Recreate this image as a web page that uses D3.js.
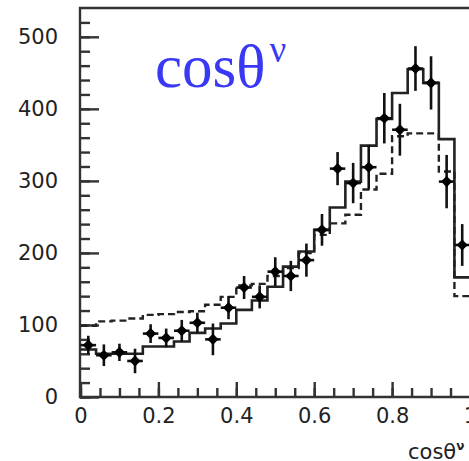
<!DOCTYPE html>
<html>
<head>
<meta charset="utf-8">
<script src="https://cdn.jsdelivr.net/npm/d3@7"></script>
<style>
  body { margin: 0; background: #fff; }
  svg { display: block; }
  .tick text { font-family: "DejaVu Sans", sans-serif; font-size: 21px; fill: #222; }
  .tick line { stroke: #333; stroke-width: 2.4; }
</style>
</head>
<body>
<svg width="469" height="461"></svg>
<script>
// bin low edges (width 0.04)
const binEdges = [0, 0.04, 0.08, 0.12, 0.16, 0.2, 0.24, 0.28, 0.32, 0.36, 0.4, 0.44, 0.48,
  0.52, 0.56, 0.6, 0.64, 0.68, 0.72, 0.76, 0.8, 0.84, 0.88, 0.92, 0.96];
const binWidth = 0.04;

// solid histogram
const solidHist = [66, 60, 60, 60, 70, 70, 77, 89, 95, 102, 121, 134, 153,
  181, 202, 232, 263, 299, 349, 386, 422, 455, 436, 358, 166];

// dashed histogram
const dashedHist = [99, 105, 106, 109, 114, 115, 118, 119, 128, 139, 155, 157, 168,
  179, 200, 225, 241, 253, 288, 310, 362, 366, 366, 313, 140];

// data points (bin centres) and errors
const pointX = [0.02, 0.06, 0.1, 0.14, 0.18, 0.22, 0.26, 0.3, 0.34, 0.38, 0.42, 0.46, 0.5,
  0.54, 0.58, 0.62, 0.66, 0.7, 0.74, 0.78, 0.82, 0.86, 0.9, 0.94, 0.98];
const pointY = [72, 58, 62, 50, 88, 82, 92, 103, 80, 124, 152, 139, 174,
  168, 190, 232, 317, 297, 319, 387, 371, 456, 436, 299, 211];
const pointErr = [13, 15, 12, 17, 13, 13, 15, 14, 22, 16, 16, 16, 20,
  21, 23, 22, 23, 28, 31, 35, 36, 31, 37, 37, 29];

const yMajor = [0, 100, 200, 300, 400, 500];
const yMinor = d3.range(0, 540, 20);
const xMajor = [0, 0.2, 0.4, 0.6, 0.8, 1];
const xMinor = d3.range(0, 1.001, 0.05);

const svg = d3.select("svg");
const pLeft = 80, pTop = 8, pBottom = 397, pRight = 470;

const x = d3.scaleLinear().domain([0, 1]).range([pLeft + 0.5, pRight]);
const y = d3.scaleLinear().domain([0, 540]).range([pBottom, pTop]);

// minor ticks
svg.append("g")
  .attr("transform", "translate(" + pLeft + ",0)")
  .call(d3.axisLeft(y).tickValues(yMinor).tickSize(-10).tickFormat(""))
  .call(g => g.select(".domain").remove());
svg.append("g")
  .attr("transform", "translate(0," + pBottom + ")")
  .call(d3.axisBottom(x).tickValues(xMinor).tickSize(-9).tickFormat(""))
  .call(g => g.select(".domain").remove());

// major ticks + labels
svg.append("g")
  .attr("transform", "translate(" + pLeft + ",0)")
  .call(d3.axisLeft(y).tickValues(yMajor).tickSize(-19).tickPadding(22).tickFormat(d => d))
  .call(g => g.select(".domain").remove());
svg.append("g")
  .attr("transform", "translate(0," + pBottom + ")")
  .call(d3.axisBottom(x).tickValues(xMajor).tickSize(-15).tickPadding(11).tickFormat(d => String(d)))
  .call(g => g.select(".domain").remove());

// frame
svg.append("path")
  .attr("d", "M" + (pRight + 2) + "," + pTop + "H" + pLeft + "V" + pBottom + "H" + (pRight + 2))
  .attr("fill", "none")
  .attr("stroke", "#333")
  .attr("stroke-width", 2.4);

// histograms
const stepLine = d3.line()
  .x(d => x(d[0]))
  .y(d => y(d[1]))
  .curve(d3.curveStepAfter);

function histPoints(vals) {
  const p = binEdges.map((e, i) => [e, vals[i]]);
  p.push([binEdges[binEdges.length - 1] + binWidth, vals[vals.length - 1]]);
  return p;
}

svg.append("path")
  .datum(histPoints(dashedHist))
  .attr("d", stepLine)
  .attr("fill", "none")
  .attr("stroke", "#222")
  .attr("stroke-width", 2.4)
  .attr("stroke-dasharray", "7,4");

svg.append("path")
  .datum(histPoints(solidHist))
  .attr("d", stepLine)
  .attr("fill", "none")
  .attr("stroke", "#222")
  .attr("stroke-width", 2.6);

// data points with error bars
const pts = svg.append("g").selectAll("g")
  .data(pointX.map((c, i) => ({ c: c, v: pointY[i], e: pointErr[i] })))
  .join("g");

pts.append("line")
  .attr("x1", d => x(d.c)).attr("x2", d => x(d.c))
  .attr("y1", d => y(d.v - d.e)).attr("y2", d => y(d.v + d.e))
  .attr("stroke", "#111").attr("stroke-width", 2.6);

pts.append("line")
  .attr("x1", d => x(d.c - binWidth / 2)).attr("x2", d => x(d.c + binWidth / 2))
  .attr("y1", d => y(d.v)).attr("y2", d => y(d.v))
  .attr("stroke", "#111").attr("stroke-width", 2.6);

pts.append("path")
  .attr("d", d3.symbol(d3.symbolSquare, 62))
  .attr("transform", d => "translate(" + x(d.c) + "," + y(d.v) + ") rotate(45)")
  .attr("fill", "#000");

// big blue label
const lbl = svg.append("text")
  .attr("x", 155)
  .attr("y", 87)
  .attr("font-family", "'Liberation Serif', 'Times New Roman', serif")
  .attr("font-size", 61)
  .attr("fill", "#3838f5");
lbl.append("tspan").text("cosθ");
lbl.append("tspan").attr("font-size", 37).attr("dx", 4).attr("dy", -25).text("ν");

// axis title
const ttl = svg.append("text")
  .attr("x", 408)
  .attr("y", 459)
  .attr("font-family", "'DejaVu Sans', sans-serif")
  .attr("font-size", 21)
  .attr("fill", "#222");
ttl.append("tspan").text("cosθ");
ttl.append("tspan").attr("font-size", 12).attr("font-weight", "bold").attr("dy", -9).text("ν");
</script>
</body>
</html>
